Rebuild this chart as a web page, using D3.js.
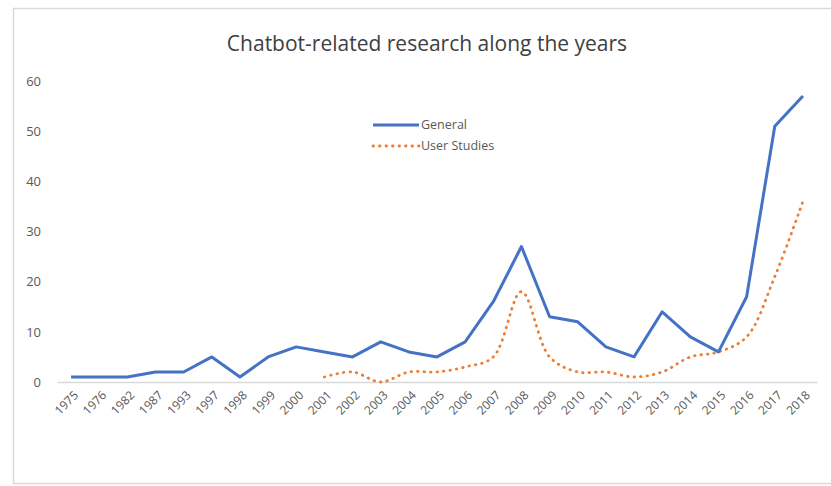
<!DOCTYPE html>
<html>
<head>
<meta charset="utf-8">
<script src="https://cdn.jsdelivr.net/npm/d3@7"></script>
<style>
  body { margin: 0; background: #fff; }
  svg { display: block; }
  text { font-family: "Open Sans", "Liberation Sans", sans-serif; fill: #595959; }
</style>
</head>
<body>
<div id="chart-container"><svg width="831" height="486"></svg></div>
<script>
const years = ['1975', '1976', '1982', '1987', '1993', '1997', '1998', '1999', '2000',
  '2001', '2002', '2003', '2004', '2005', '2006', '2007', '2008', '2009', '2010',
  '2011', '2012', '2013', '2014', '2015', '2016', '2017', '2018'];

const general = [1, 1, 1, 2, 2, 5, 1, 5, 7,
  6, 5, 8, 6, 5, 8, 16, 27, 13, 12, 7, 5, 14, 9, 6, 17, 51, 57];

// user studies only start in 2001
const userStudies = [null, null, null, null, null, null, null, null, null,
  1, 2, 0, 2, 2, 3, 5, 18, 5, 2, 2, 1, 2, 5, 6, 9, 21, 36];

const yTicks = [0, 10, 20, 30, 40, 50, 60];

const seriesNames = ['General', 'User Studies'];

const margin = { top: 81, right: 14, bottom: 104, left: 57 };
const svg = d3.select('#chart-container>svg');
const width = +svg.attr('width') - margin.left - margin.right;
const height = +svg.attr('height') - margin.top - margin.bottom;

// chart area frame
svg.append('rect')
  .attr('x', 13.5)
  .attr('y', 8.5)
  .attr('width', 840)
  .attr('height', 475)
  .attr('fill', 'none')
  .attr('stroke', '#d9d9d9')
  .attr('stroke-width', 1.5);

svg.append('text')
  .attr('x', 427)
  .attr('y', 51)
  .attr('text-anchor', 'middle')
  .style('font-size', '21px')
  .style('fill', '#404040')
  .text('Chatbot-related research along the years');

const canvas = svg.append('g')
  .attr('transform', `translate(${margin.left},${margin.top})`);

const xScale = d3.scaleBand().domain(years).range([0, width]);
const yScale = d3.scaleLinear().domain([0, 60]).range([height, 0]);
const xPos = d => xScale(d) + xScale.bandwidth() / 2;

// y axis labels, no line
const yAxis = d3.axisLeft(yScale).tickValues(yTicks).tickSize(0).tickPadding(10);
const gY = canvas.append('g').call(yAxis);
gY.select('.domain').remove();
gY.selectAll('text')
  .attr('text-anchor', 'end')
  .attr('x', -16)
  .style('font-size', '13px')
  .style('fill', '#595959')
  .style('font-family', '"Open Sans", sans-serif');

// x axis
const xAxis = d3.axisBottom(xScale).tickSize(0).tickPadding(0);
const gX = canvas.append('g')
  .attr('transform', `translate(0,${height})`)
  .call(xAxis);
gX.select('.domain').attr('stroke', '#d9d9d9').attr('stroke-width', 1.5);
gX.selectAll('text')
  .attr('text-anchor', 'end')
  .attr('dy', 0)
  .attr('transform', 'translate(8,14) rotate(-45)')
  .style('font-size', '12px')
  .style('fill', '#595959')
  .style('font-family', '"Open Sans", sans-serif');

const lineGeneral = d3.line()
  .x((d, i) => xPos(years[i]))
  .y(d => yScale(d));

const lineUser = d3.line()
  .defined(d => d !== null)
  .x((d, i) => xPos(years[i]))
  .y(d => yScale(d))
  .curve(d3.curveCatmullRom.alpha(0.5));

canvas.append('path')
  .datum(userStudies)
  .attr('fill', 'none')
  .attr('stroke', '#ed7d31')
  .attr('stroke-width', 2.8)
  .attr('stroke-linecap', 'round')
  .attr('stroke-dasharray', '0.5,6')
  .attr('d', lineUser);

canvas.append('path')
  .datum(general)
  .attr('fill', 'none')
  .attr('stroke', '#4472c4')
  .attr('stroke-width', 3)
  .attr('stroke-linejoin', 'round')
  .attr('d', lineGeneral);

// legend
const legend = svg.append('g').attr('transform', 'translate(373,125)');
seriesNames.forEach((name, i) => {
  const row = legend.append('g').attr('transform', `translate(0,${i * 21})`);
  row.append('line')
    .attr('x1', 0)
    .attr('x2', 46)
    .attr('stroke', i === 0 ? '#4472c4' : '#ed7d31')
    .attr('stroke-width', i === 0 ? 3 : 2.8)
    .attr('stroke-linecap', i === 0 ? null : 'round')
    .attr('stroke-dasharray', i === 0 ? null : '0.5,6');
  row.append('text')
    .attr('x', 48)
    .attr('dy', '0.35em')
    .style('font-size', '12.5px')
    .text(name);
});
</script>
</body>
</html>
